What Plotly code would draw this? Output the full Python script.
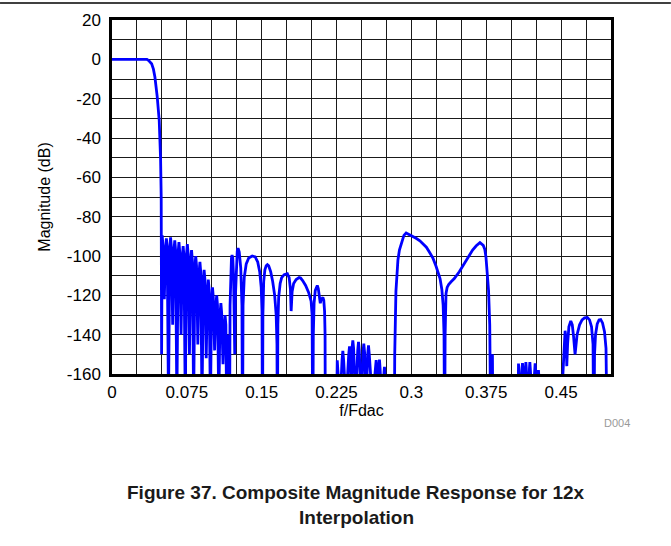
import plotly.graph_objects as go

# ---------------- data ----------------
passband_f = [0.0, 0.035, 0.0365, 0.038, 0.0397, 0.0415, 0.043, 0.0453, 0.0473, 0.0487, 0.0493, 0.0497]
passband_db = [0.0, 0.0, -0.5, -1.2, -2.2, -5.0, -9.0, -19.0, -31.0, -51.0, -70.0, -150.0]

dense_f = [0.0499, 0.0501, 0.0503, 0.0511, 0.0524,
           0.0537, 0.0545, 0.0553, 0.0566,
           0.0579, 0.0587, 0.0595, 0.0608,
           0.0621, 0.0629, 0.0637, 0.0650,
           0.0663, 0.0671, 0.0679, 0.0692,
           0.0705, 0.0713, 0.0721, 0.0734,
           0.0747, 0.0755, 0.0763, 0.0776,
           0.0789, 0.0797, 0.0805, 0.0818,
           0.0831, 0.0839, 0.0847, 0.0860,
           0.0873, 0.0881, 0.0889, 0.0902,
           0.0915, 0.0923, 0.0931, 0.0944,
           0.0957, 0.0965, 0.0973, 0.0986,
           0.0999, 0.1007, 0.1015, 0.1028,
           0.1041, 0.1049, 0.1057, 0.1070,
           0.1083, 0.1091, 0.1099, 0.1112,
           0.1125, 0.1133, 0.1141, 0.1148,
           0.1156, 0.1163, 0.1168, 0.1172]
dense_db = [-120, -93, -89.5, -95, -122,
            -96, -91, -96, -175,
            -95.5, -90.5, -95.5, -135,
            -97, -92, -97, -175,
            -98, -93, -98, -140,
            -100, -95, -100, -175,
            -99, -94, -99, -150,
            -102, -97, -102, -175,
            -105, -100, -105, -145,
            -108, -103, -108, -175,
            -112, -107, -112, -152,
            -117, -112, -117, -175,
            -121, -116, -121, -148,
            -125, -120, -125, -175,
            -129, -124, -129, -155,
            -135, -130, -135, -175,
            -145, -140, -148, -200]

lobes_f = [0.1177, 0.1183, 0.1190, 0.1197, 0.1203, 0.1210, 0.1218, 0.1225, 0.1230,
           0.1237, 0.1245, 0.1255, 0.1263, 0.1275, 0.1290, 0.1302, 0.1308,
           0.1313, 0.1325, 0.1345, 0.1370, 0.1405, 0.1435, 0.1460, 0.1480, 0.1495, 0.1503, 0.1508,
           0.1512, 0.1520, 0.1532, 0.1545, 0.1557, 0.1570, 0.1590, 0.1610, 0.1630, 0.1645, 0.1653, 0.1657,
           0.1662, 0.1670, 0.1685, 0.1700, 0.1725, 0.1757, 0.1775, 0.1788, 0.1795,
           0.1805, 0.1820, 0.1845, 0.1875, 0.1890, 0.1910, 0.1940, 0.1970, 0.1995, 0.2005, 0.2010, 0.2012,
           0.2017, 0.2025, 0.2037, 0.2050, 0.2057, 0.2067, 0.2078, 0.2087,
           0.2097, 0.2107, 0.2113, 0.2122, 0.2130, 0.2135, 0.2138]
lobes_db = [-200, -125, -108, -101, -99.5, -101, -110, -130, -150,
            -120, -104, -97.5, -96, -98, -106, -125, -200,
            -125, -111, -104, -101, -100, -100.5, -103, -108, -116, -128, -200,
            -130, -113, -107, -105, -104.4, -105, -108, -113, -120, -130, -145, -200,
            -135, -121, -114, -111, -109.5, -109, -111, -117, -128,
            -118, -114, -112, -111, -111.2, -112.5, -115, -118.5, -123, -130, -145, -200,
            -140, -124, -117.5, -115.2, -115, -116.5, -120, -124,
            -122, -121.2, -121, -122.5, -128, -140, -200]

mid_f = [0.2245, 0.2251, 0.2257, 0.2263, 0.2285,
         0.2305, 0.2313, 0.2321, 0.2345,
         0.2372, 0.2380, 0.2388, 0.2396,
         0.2405, 0.2413, 0.2421, 0.2440,
         0.2462, 0.2470, 0.2478, 0.2496,
         0.2515, 0.2523, 0.2531, 0.2546,
         0.2562, 0.2570, 0.2578, 0.2610,
         0.2640, 0.2647, 0.2654, 0.2663,
         0.2674, 0.2680, 0.2686, 0.2705,
         0.2726, 0.2730, 0.2734, 0.2740]
mid_db = [-200, -158, -153, -158, -175,
          -153, -148.3, -153, -175,
          -150, -145.9, -150, -175,
          -147, -142.9, -147, -175,
          -148, -143.7, -148, -175,
          -149, -144.6, -149, -175,
          -150, -145.4, -150, -175,
          -157, -153, -157, -175,
          -157, -152.7, -157, -175,
          -159, -156.4, -159, -200]

image_f = [0.2828, 0.2833, 0.2845, 0.2865, 0.2880, 0.2905, 0.2925, 0.2947, 0.2975, 0.3000, 0.3047,
           0.3085, 0.3113, 0.3150, 0.3180, 0.3215, 0.3247, 0.3270, 0.3287, 0.3305, 0.3318, 0.3327, 0.3333,
           0.3338, 0.3343, 0.3347, 0.3358, 0.3373, 0.3400, 0.3430, 0.3480, 0.3515, 0.3547, 0.3580, 0.3613,
           0.3650, 0.3687, 0.3720, 0.3735, 0.3747, 0.3760, 0.3773, 0.3785, 0.3797,
           0.3805, 0.3812, 0.3818]
image_db = [-200, -150, -118, -102, -97, -92, -89.5, -88.3, -89, -90, -91,
            -92.3, -93.5, -95.5, -98, -101, -105.2, -108.5, -111.5, -117, -125, -140, -200,
            -140, -125, -119, -116, -114.5, -113, -111.5, -108, -105, -102, -99.5, -97,
            -94.8, -93.2, -94.6, -96.5, -100.5, -108, -117.5, -135, -200,
            -175, -150, -200]

high_f = [0.4065, 0.4069, 0.4073, 0.4077, 0.4093,
          0.4109, 0.4113, 0.4117, 0.4130,
          0.4143, 0.4147, 0.4151, 0.4167,
          0.4183, 0.4187, 0.4191, 0.4213,
          0.4236, 0.4240, 0.4244, 0.4257,
          0.4270, 0.4273, 0.4276, 0.4282]
high_db = [-200, -158, -154.7, -158, -175,
           -157, -154.5, -157, -175,
           -157, -154, -157, -175,
           -157, -154, -157, -175,
           -158, -154.6, -158, -175,
           -160, -158, -160, -200]

edge_f = [0.4513, 0.4518, 0.4528, 0.4540, 0.4550, 0.4557, 0.4565, 0.4578, 0.4597, 0.4612, 0.4625,
          0.4640, 0.4660, 0.4685, 0.4710, 0.4735, 0.4763, 0.4785, 0.4805, 0.4820, 0.4828,
          0.4835, 0.4845, 0.4862, 0.4880, 0.4897, 0.4915, 0.4935, 0.4950, 0.4963]
edge_db = [-200, -160, -145, -138, -142, -156, -145, -136, -133, -135, -141,
           -150, -140, -135, -132.5, -131.5, -131.3, -132.5, -136, -145, -200,
           -150, -140, -134.5, -132.5, -132.3, -134, -138.5, -147, -200]

x_tick_vals = [0, 0.075, 0.15, 0.225, 0.3, 0.375, 0.45]
x_tick_text = ["0", "0.075", "0.15", "0.225", "0.3", "0.375", "0.45"]
y_tick_vals = [20, 0, -20, -40, -60, -80, -100, -120, -140, -160]
y_tick_text = ["20", "0", "-20", "-40", "-60", "-80", "-100", "-120", "-140", "-160"]

freq = passband_f + dense_f + lobes_f + mid_f + image_f + high_f + edge_f
mag = passband_db + dense_db + lobes_db + mid_db + image_db + high_db + edge_db

FONT = "Liberation Sans, Arial, Helvetica, sans-serif"
GRID = "#1a1a1a"

fig = go.Figure(go.Scatter(x=freq, y=mag, mode="lines",
                           line=dict(color="#0000FF", width=2.8),
                           hoverinfo="skip"))

fig.update_layout(
    width=671, height=546,
    margin=dict(l=112, r=60, t=20, b=172),
    paper_bgcolor="white", plot_bgcolor="white",
    showlegend=False,
    font=dict(family=FONT, size=16, color="black"),
)

fig.update_xaxes(
    range=[0, 0.5], tickmode="array", tickvals=x_tick_vals, ticktext=x_tick_text,
    showgrid=True, gridcolor=GRID, gridwidth=1,
    minor=dict(tickmode="linear", tick0=0, dtick=0.025, showgrid=True, gridcolor=GRID, gridwidth=1),
    showline=True, linecolor="black", linewidth=2.5, mirror=True,
    zeroline=False, ticks="", ticklabelstandoff=1,
    tickfont=dict(size=17),
    title=dict(text="f/Fdac", font=dict(size=16), standoff=2),
)
fig.update_yaxes(
    range=[-160, 20], tickmode="array", tickvals=y_tick_vals, ticktext=y_tick_text,
    showgrid=True, gridcolor=GRID, gridwidth=1,
    minor=dict(tickmode="linear", tick0=0, dtick=10, showgrid=True, gridcolor=GRID, gridwidth=1),
    showline=True, linecolor="black", linewidth=2.5, mirror=True,
    zeroline=False, ticks="", ticklabelstandoff=5,
    tickfont=dict(size=17),
    title=dict(text="Magnitude (dB)", font=dict(size=16), standoff=13),
)

fig.add_shape(type="line", xref="paper", yref="paper",
              x0=-0.2244, x1=1.12, y0=1.048, y1=1.048,
              line=dict(color="black", width=1.5))

fig.add_annotation(text="D004", xref="paper", yref="paper", x=1.042, y=-0.138,
                   xanchor="right", yanchor="middle", showarrow=False,
                   font=dict(size=11, color="#999999"))
fig.add_annotation(text="<b>Figure 37. Composite Magnitude Response for 12x</b>",
                   xref="paper", yref="paper", x=0.489, y=-0.336,
                   xanchor="center", yanchor="middle", showarrow=False,
                   font=dict(size=19, color="#1a1a1a"))
fig.add_annotation(text="<b>Interpolation</b>",
                   xref="paper", yref="paper", x=0.489, y=-0.404,
                   xanchor="center", yanchor="middle", showarrow=False,
                   font=dict(size=19, color="#1a1a1a"))

fig.write_html("out.html", config={"displayModeBar": False},
               post_script="document.body.style.margin='0';")
